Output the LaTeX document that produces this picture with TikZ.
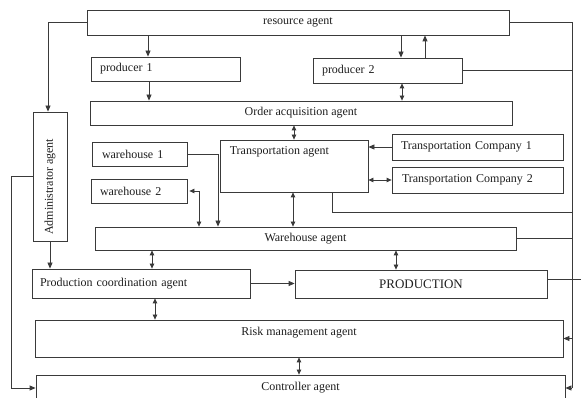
\documentclass[tikz,border=0pt]{standalone}
\usepackage{fontspec}
\setmainfont{Liberation Serif}
\usetikzlibrary{arrows.meta}
\definecolor{linec}{HTML}{3A3A3A}
\definecolor{textc}{HTML}{1E1E1E}
\begin{document}
\begin{tikzpicture}[x=1pt,y=-1pt,
  box/.style={draw=linec, line width=0.8pt, inner sep=0pt, text=textc,
    font=\fontsize{12}{14}\selectfont},
  lbox/.style={box, align=left, inner xsep=#1},
  ln/.style={draw=linec, line width=0.8pt},
  ar/.style={ln, -{Triangle[length=6pt,width=5pt]}},
  dar/.style={ln, {Triangle[length=5pt,width=4.5pt]}-{Triangle[length=5pt,width=4.5pt]}},
  every label/.style={inner sep=0pt, text=textc, font=\fontsize{12}{14}\selectfont},
]
\useasboundingbox (0,0) rectangle (582,398);

% boxes
\node[box, minimum width=422pt, minimum height=25pt] (resource) at (298,22.5) {resource agent};
\node[lbox=9pt, minimum width=149pt, minimum height=24pt, text width=131pt] (producer1) at (165.5,69) {producer 1};
\node[lbox=9pt, minimum width=149pt, minimum height=25pt, text width=131pt] (producer2) at (387.5,70.5) {producer 2};
\node[box, minimum width=422pt, minimum height=24pt] (order) at (301,113) {Order acquisition agent};
\node[box, minimum width=148pt, minimum height=52pt,
  label={[anchor=north west, xshift=10pt, yshift=-7pt]north west:Transportation agent}] (transport) at (294,166) {};
\node[lbox=9pt, minimum width=171pt, minimum height=26pt, text width=153pt] (tc1) at (477.5,147) {Transportation Company 1};
\node[lbox=10pt, minimum width=171pt, minimum height=26pt, text width=151pt] (tc2) at (477.5,180) {Transportation Company 2};
\node[lbox=10pt, minimum width=95pt, minimum height=24pt, text width=75pt] (wh1) at (139.5,154) {warehouse 1};
\node[lbox=9pt, minimum width=96pt, minimum height=24pt, text width=78pt] (wh2) at (139,191) {warehouse 2};
\node[box, minimum width=421pt, minimum height=23pt] (warehouse) at (305.5,238.5) {Warehouse agent};
\node[box, minimum width=34pt, minimum height=129pt] (admin) at (50,176.5)
  {\rotatebox{90}{\makebox[117pt][l]{Administrator agent}}};
\node[lbox=8pt, minimum width=218pt, minimum height=29pt, text width=202pt] (prodcoord) at (141,283.5) {Production coordination agent};
\node[box, minimum width=252pt, minimum height=28pt, font=\fontsize{13}{15}\selectfont] (production) at (421,284) {PRODUCTION};
\node[box, minimum width=528pt, minimum height=37pt,
  label={[yshift=5.5pt]center:Risk management agent}] (risk) at (299,338.5) {};
\node[box, minimum width=529pt, minimum height=26pt] (controller) at (300.5,388) {Controller agent};

% left side
\draw[ar] (resource.west) -| ([xshift=-2pt]admin.north);
\draw[ar] (admin.west) -- ++(-21,0) |- (controller.west);
\draw[ar] (admin.south) -- (admin.south |- prodcoord.north);

% vertical links
\draw[ar] (148,0 |- resource.south) -- (148,0 |- producer1.north);
\draw[ar] (149,0 |- producer1.south) -- (149,0 |- order.north);
\draw[ar] (401,0 |- resource.south) -- (401,0 |- producer2.north);
\draw[ar] (425,0 |- producer2.north) -- (425,0 |- resource.south);
\draw[dar] (402,0 |- producer2.south) -- (402,0 |- order.north);
\draw[dar] (294,0 |- order.south) -- (294,0 |- transport.north);
\draw[ar] (tc1.west) -- (tc1.west -| transport.east);
\draw[dar] (tc2.west) -- (tc2.west -| transport.east);
\draw[ar] (wh1.east) -| (218,0 |- warehouse.north);
\draw[dar] ([xshift=2pt]wh2.east) -| (199,0 |- warehouse.north);
\draw[dar] (293,0 |- transport.south) -- (293,0 |- warehouse.north);
\draw[dar] (152,0 |- warehouse.south) -- (152,0 |- prodcoord.north);
\draw[dar] (396,0 |- warehouse.south) -- (396,0 |- production.north);
\draw[ar] (prodcoord.east) -- (prodcoord.east -| production.west);
\draw[dar] (155,0 |- prodcoord.south) -- (155,0 |- risk.north);
\draw[dar] (299,0 |- risk.south) -- (299,0 |- controller.north);

% right bus
\coordinate (bustop) at (572,22.5);
\coordinate (busbot) at (572,388);
\coordinate (prodend) at (581,279);
\draw[ln] (resource.east) -- (bustop) -- (busbot);
\draw[ln] (producer2.east) -- (producer2.east -| bustop);
\draw[ln] (332,0 |- transport.south) |- (bustop |- 0,212);
\draw[ln] (warehouse.east) -- (warehouse.east -| bustop);
\draw[ln] (production.east |- prodend) -- (prodend);
\draw[ar] (bustop |- risk.east) -- (risk.east);
\draw[ar] (busbot) -- (controller.east);
\end{tikzpicture}
\end{document}
